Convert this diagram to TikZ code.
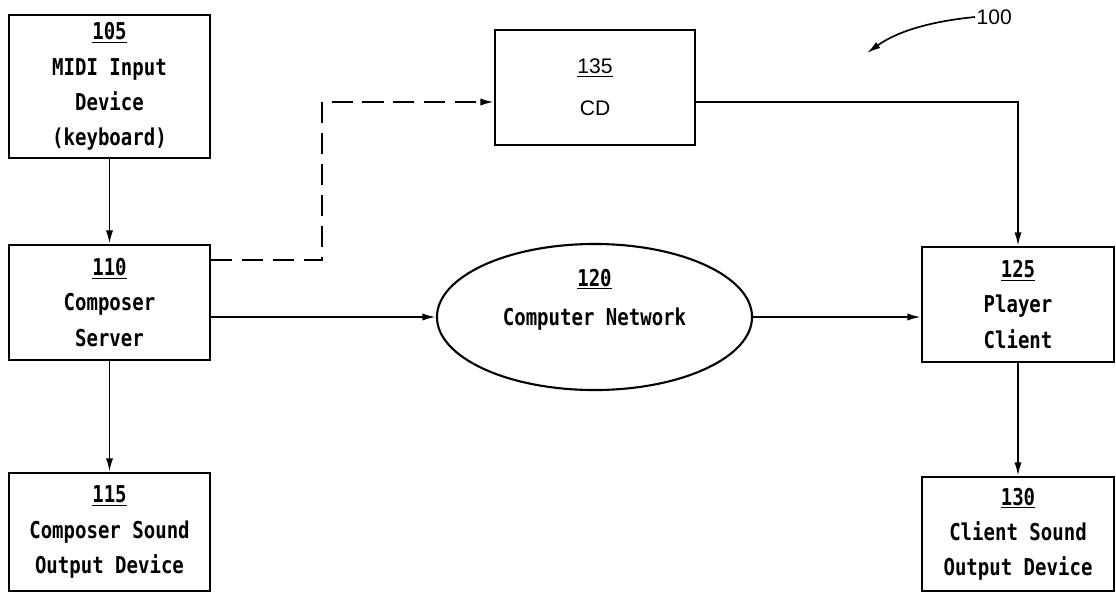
\documentclass[tikz,border=0pt]{standalone}
\usepackage{fontspec}
\setmainfont{DejaVu Sans Mono}[FakeStretch=0.82]
\newfontfamily\labelfont{Liberation Sans}
\usetikzlibrary{arrows.meta,shapes.geometric}

\begin{document}
\begin{tikzpicture}
  [x=0.025cm,y=-0.025cm,
   box/.style={draw,line width=1.5pt,align=center,inner sep=0pt,
     font=\bfseries\fontsize{16.5}{25}\selectfont},
   edge/.style={line width=1.4pt,-{Latex[length=3.4mm,width=1.8mm]}}]

  \useasboundingbox (0,0) rectangle (1116,592);

  \coordinate (dashlow) at (322,260);
  \coordinate (dashhigh) at (322,102);
  \coordinate (figtip) at (867,53);

  \node (midi) [box,minimum width=5.025cm,minimum height=3.575cm] at (109.5,86.5)
    {\underline{105}\\MIDI Input\\Device\\(keyboard)};
  \node (server) [box,minimum width=5.025cm,minimum height=2.875cm] at (109.5,302.5)
    {\underline{110}\\Composer\\Server};
  \node (composersound) [box,minimum width=5.025cm,minimum height=2.95cm] at (109.5,532)
    {\underline{115}\\Composer Sound\\Output Device};
  \node (cd) [box,minimum width=5cm,minimum height=2.875cm,
    font=\labelfont\fontsize{15}{30}\selectfont] at (595,87.5)
    {\underline{135}\\CD};
  \node (network) [box,ellipse,minimum width=7.875cm,minimum height=3.65cm] at (594.5,317)
    {\underline{120}\\[3pt]Computer Network\\[3pt]\phantom{0}};
  \node (player) [box,minimum width=4.8cm,minimum height=2.875cm] at (1018,304.5)
    {\underline{125}\\Player\\Client};
  \node (clientsound) [box,minimum width=4.8cm,minimum height=2.85cm] at (1018,534)
    {\underline{130}\\Client Sound\\Output Device};

  \node (fig) [anchor=west,inner sep=1pt,font=\labelfont\fontsize{15}{18}\selectfont] at (975,17) {100};

  \draw [edge] (midi) -- (server);
  \draw [edge] (server) -- (composersound);
  \draw [edge] (server.east |- network.west) -- (network.west);
  \draw [edge] (network.east) -- (network.east -| player.west);
  \draw [edge] (player) -- (clientsound);
  \draw [edge,dash pattern=on 15pt off 7pt] (server.east |- dashlow) -- (dashlow) -- (dashhigh) -- (cd.west |- dashhigh);
  \draw [edge] (cd.east |- dashhigh) -| (player.north);
  \draw [line width=1.2pt,-{Latex[length=3.4mm,width=1.8mm]}] (fig.west) .. controls (925,22) and (895,33) .. (figtip);

\end{tikzpicture}
\end{document}
